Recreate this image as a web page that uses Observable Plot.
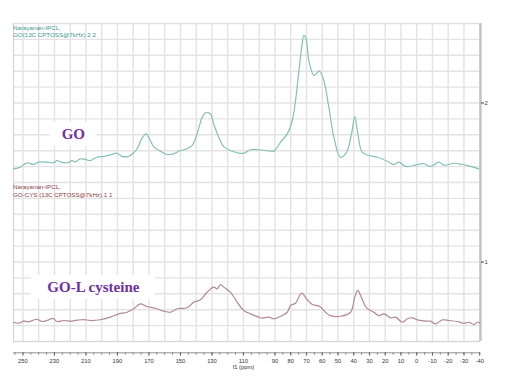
<!DOCTYPE html>
<html>
<head>
<meta charset="utf-8">
<script src="https://cdn.jsdelivr.net/npm/d3@7"></script>
<script src="https://cdn.jsdelivr.net/npm/@observablehq/plot@0.6"></script>
<style>
  html, body { margin: 0; padding: 0; background: #fff; }
  #chart svg { display: block; }
</style>
</head>
<body>
<div id="chart"></div>
<script>
// ---- Data ----
// GO spectrum: chemical shift (ppm) and intensity
const goPpm = [256.0, 251.7, 247.5, 243.3, 240.1, 234.7, 230.6, 228.4, 225.2, 221.0, 218.9, 216.8, 213.6, 210.4, 207.2, 203.0, 198.8, 194.5, 190.3, 187.1, 182.9, 179.7, 177.5, 174.4, 171.8, 169.1, 167.0, 162.7, 158.5, 154.3, 150.0, 145.8, 142.6, 139.4, 136.2, 134.1, 131.0, 128.9, 125.7, 122.5, 118.3, 114.0, 109.8, 105.5, 100.3, 94.9, 90.7, 86.5, 82.2, 79.0, 76.9, 74.8, 72.7, 71.7, 70.3, 68.5, 65.3, 63.6, 61.7, 59.0, 55.8, 52.6, 48.4, 44.5, 41.4, 39.3, 37.4, 34.6, 30.4, 25.0, 18.7, 14.5, 11.3, 7.0, 1.8, -4.6, -8.8, -14.1, -17.3, -23.6, -29.0, -34.3, -39.5];
const goInt = [1.586, 1.596, 1.624, 1.613, 1.628, 1.628, 1.624, 1.637, 1.626, 1.626, 1.638, 1.630, 1.649, 1.645, 1.638, 1.659, 1.664, 1.674, 1.684, 1.664, 1.664, 1.687, 1.712, 1.779, 1.806, 1.764, 1.726, 1.697, 1.676, 1.680, 1.701, 1.712, 1.733, 1.806, 1.911, 1.938, 1.932, 1.869, 1.785, 1.726, 1.701, 1.687, 1.684, 1.706, 1.706, 1.701, 1.697, 1.753, 1.806, 1.890, 2.016, 2.204, 2.372, 2.425, 2.406, 2.267, 2.173, 2.186, 2.200, 2.142, 1.974, 1.785, 1.659, 1.691, 1.806, 1.915, 1.806, 1.691, 1.670, 1.659, 1.634, 1.613, 1.628, 1.601, 1.607, 1.618, 1.601, 1.628, 1.609, 1.621, 1.613, 1.601, 1.586];

// GO-CYS spectrum
const cysPpm = [256.0, 252.8, 249.6, 246.4, 241.1, 237.9, 234.7, 230.9, 228.4, 224.2, 219.9, 215.7, 211.5, 207.2, 200.9, 194.5, 189.2, 183.9, 179.7, 175.5, 171.2, 165.9, 160.6, 156.4, 152.1, 145.8, 141.6, 137.3, 133.1, 128.9, 126.7, 124.6, 122.5, 118.3, 114.0, 109.8, 105.5, 100.3, 98.1, 93.9, 90.7, 85.4, 82.2, 80.1, 76.9, 73.1, 69.5, 66.3, 61.5, 57.9, 54.7, 48.4, 42.0, 39.3, 37.4, 35.2, 31.8, 27.2, 24.0, 20.8, 16.6, 13.4, 9.1, 6.0, 2.8, -0.4, -5.7, -8.8, -12.0, -16.3, -20.5, -25.8, -30.0, -33.2, -36.4, -38.5, -40.2];
const cysInt = [0.621, 0.615, 0.628, 0.624, 0.640, 0.626, 0.632, 0.645, 0.626, 0.632, 0.628, 0.634, 0.638, 0.632, 0.637, 0.653, 0.674, 0.684, 0.706, 0.737, 0.720, 0.709, 0.691, 0.684, 0.706, 0.712, 0.747, 0.762, 0.810, 0.842, 0.831, 0.858, 0.842, 0.810, 0.747, 0.695, 0.674, 0.653, 0.647, 0.653, 0.643, 0.664, 0.684, 0.726, 0.741, 0.804, 0.764, 0.733, 0.720, 0.684, 0.663, 0.659, 0.684, 0.779, 0.821, 0.779, 0.712, 0.684, 0.663, 0.674, 0.649, 0.653, 0.621, 0.643, 0.649, 0.636, 0.628, 0.628, 0.611, 0.636, 0.632, 0.626, 0.615, 0.621, 0.607, 0.621, 0.615];

// Axis tick labels (ppm)
const xTickLabels = [250, 230, 210, 190, 170, 150, 130, 110, 90, 80, 70, 60, 50, 40, 30, 20, 10, 0, -10, -20, -30, -40];
const yTickLabels = [1, 2];

// Header texts and in-plot labels
const headerTexts = ["Narayanan-IPCL,\nGO(13C CPTOSS@7kHz) 2 2", "Narayanan-IPCL,\nGO-CYS (13C CPTOSS@7kHz) 1 1"];
const headerLevels = [2.5, 1.5];
const labelTexts = ["GO", "GO-L cysteine"];
const labelPpm = [218.0, 205.3];
const labelLevels = [1.802, 0.840];

// ---- Build tables ----
const go = goPpm.map((x, i) => ({x, y: goInt[i]}));
const cys = cysPpm.map((x, i) => ({x, y: cysInt[i]}));
const headers = headerTexts.map((t, i) => ({t, y: headerLevels[i]}));
const labels = labelTexts.map((t, i) => ({t, x: labelPpm[i], y: labelLevels[i]}));

const W = 507, H = 386;
const mT = 23, mB = 45, mL = 13, mR = 27;
const xDomain = [256, -40.5];
const yDomain = [0.5, 2.5];
const pxPerUnit = (H - mT - mB) / (yDomain[1] - yDomain[0]);
const axisOffsetPx = 11.3;
const yAxis = yDomain[0] - axisOffsetPx / pxPerUnit;

const xGrid = d3.range(250, -41, -10);
const yGrid = d3.range(5, 26).map(d => d / 10);
const xMinor = d3.range(255, -41, -5);

const gridColor = "#e3e3e3";

const chart = Plot.plot({
  width: W,
  height: H,
  marginTop: mT,
  marginBottom: mB,
  marginLeft: mL,
  marginRight: mR,
  style: {background: "#fff", fontFamily: "Liberation Sans, sans-serif"},
  x: {domain: xDomain, axis: null},
  y: {domain: yDomain, axis: null},
  marks: [
    // gridlines
    Plot.ruleX(xGrid, {stroke: gridColor, strokeWidth: 1.4}),
    Plot.ruleY(yGrid, {stroke: gridColor, strokeWidth: 1.4}),
    // frame borders
    Plot.ruleX([xDomain[0]], {stroke: "#d6d6d6", strokeWidth: 1.2}),
    Plot.ruleY([yDomain[0]], {stroke: "#d6d6d6", strokeWidth: 1.2}),
    Plot.ruleX([xDomain[1]], {stroke: "#c4c4c4", strokeWidth: 2.4}),
    // right axis
    Plot.axisY(yTickLabels, {anchor: "right", label: null, tickSize: 3, tickPadding: 1, fontSize: 6, color: "#444", tickFormat: d => String(d)}),
    // spectra
    Plot.line(go, {x: "x", y: "y", stroke: "#85c0b8", strokeWidth: 1.2, curve: "catmull-rom"}),
    Plot.line(cys, {x: "x", y: "y", stroke: "#b08a8e", strokeWidth: 1.2, curve: "catmull-rom"}),
    // headers
    Plot.text(headers.slice(0, 1), {x: () => xDomain[0], y: "y", text: "t", textAnchor: "start", lineAnchor: "top", lineHeight: 1.15, fontSize: 6.2, fill: "#3a9a8c", dx: -0.5, dy: 1}),
    Plot.text(headers.slice(1), {x: () => xDomain[0], y: "y", text: "t", textAnchor: "start", lineAnchor: "top", lineHeight: 1.3, fontSize: 6.2, fill: "#8e3c44", dx: -0.5, dy: 1}),
    // label boxes
    Plot.rect(labels.slice(0, 1), {x1: "x", x2: "x", y1: "y", y2: "y", insetLeft: -23.5, insetRight: -23.5, insetTop: -12, insetBottom: -12, fill: "#fff"}),
    Plot.rect(labels.slice(1), {x1: "x", x2: "x", y1: "y", y2: "y", insetLeft: -62, insetRight: -62, insetTop: -12, insetBottom: -12, fill: "#fff"}),
    Plot.text(labels, {x: "x", y: "y", text: "t", fontSize: 15, fontWeight: "bold", fontFamily: "Liberation Serif, serif", fill: "#7030a0"}),
    // bottom x axis (offset below the frame)
    Plot.ruleY([yAxis], {x1: xDomain[0], x2: xDomain[1], stroke: "#777", strokeWidth: 0.8}),
    Plot.ruleX(xMinor, {x: d => d, y1: yAxis, y2: yAxis - 2.5 / pxPerUnit, stroke: "#777", strokeWidth: 0.8}),
    Plot.ruleX(xTickLabels, {x: d => d, y1: yAxis, y2: yAxis - 3.5 / pxPerUnit, stroke: "#555", strokeWidth: 0.8}),
    Plot.text(xTickLabels, {x: d => d, y: yAxis, text: d => String(d), dy: 8.5, fontSize: 5.8, fill: "#333"}),
    Plot.text(["f1 (ppm)"], {x: () => 110, y: yAxis, text: d => d, dy: 14.5, fontSize: 5.8, fill: "#333"})
  ]
});

document.getElementById("chart").appendChild(chart);
</script>
</body>
</html>
